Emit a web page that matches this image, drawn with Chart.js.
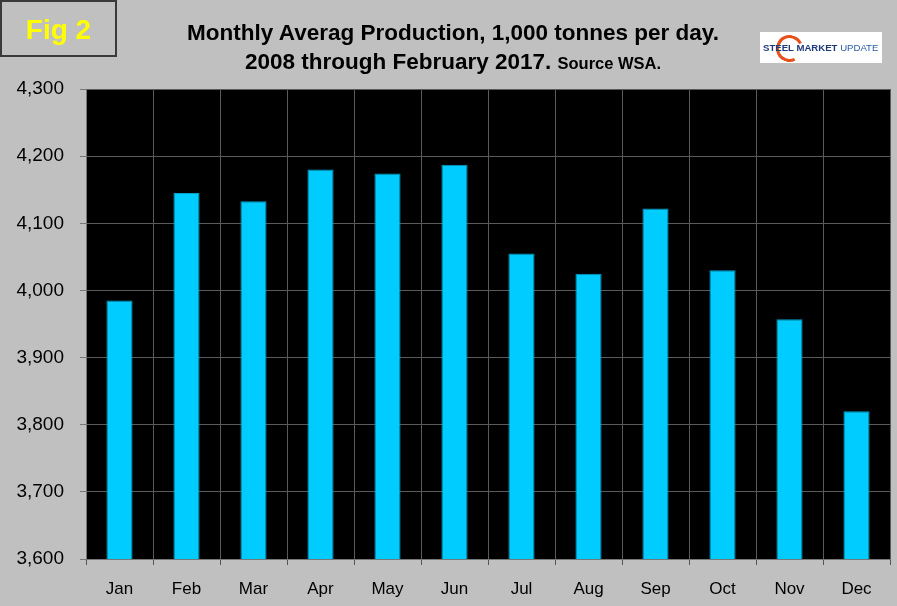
<!DOCTYPE html>
<html>
<head>
<meta charset="utf-8">
<script src="https://cdn.jsdelivr.net/npm/chart.js@4.4.0/dist/chart.umd.min.js"></script>
<style>
  html, body { margin: 0; padding: 0; background: #c0c0c0; }
  #wrap { position: relative; width: 897px; height: 606px; background: #c0c0c0; overflow: hidden; font-family: Arial, "Liberation Sans", sans-serif; }
  #chart { position: absolute; left: 0; top: 0; }
  #fig { position: absolute; left: 0; top: 0; width: 113px; height: 53px; border: 2px solid #3a3a3a;
         color: #ffff00; font-weight: bold; font-size: 28px; line-height: 56px; text-align: center; }
  #title { position: absolute; left: 0; width: 906px; top: 18px; text-align: center; font-weight: bold; color: #000; font-size: 22.5px; line-height: 29px; }
  #title small { font-size: 16.5px; }
  #logo { position: absolute; left: 760px; top: 32px; width: 122px; height: 31px; background: #fff; overflow: hidden; }
  #logo .arc { position: absolute; left: 16px; top: 3px; width: 27px; height: 27px; border-radius: 50%; border: 3px solid #e8501a; border-right-color: transparent; box-sizing: border-box; transform: rotate(20deg); }
  #logo .txt { position: absolute; left: 3px; top: 10px; font-size: 9.6px; font-weight: bold; color: #1f3a7a; white-space: nowrap; }
  #logo .txt span { font-weight: normal; color: #2a5aa8; }
</style>
</head>
<body>
<div id="wrap">
  <canvas id="chart" width="897" height="606"></canvas>
  <div id="fig">Fig 2</div>
  <div id="title">Monthly Averag Production, 1,000 tonnes per day.<br>2008 through February 2017. <small>Source WSA.</small></div>
  <div id="logo"><div class="arc"></div><div class="txt">STEEL MARKET <span>UPDATE</span></div></div>
</div>
<script>
const months = ['Jan', 'Feb', 'Mar', 'Apr', 'May', 'Jun', 'Jul', 'Aug', 'Sep', 'Oct', 'Nov', 'Dec'];
const production = [3985, 4145, 4133, 4180, 4174, 4187, 4055, 4025, 4122, 4030, 3957, 3820];
const yMin = 3600;
const yMax = 4300;
const yStep = 100;

// fond noir de la zone du graphique
const plotBg = {
    id: 'plotBg',
    beforeDraw(chart) {
        const a = chart.chartArea;
        const ctx = chart.ctx;
        ctx.save();
        ctx.fillStyle = '#000000';
        ctx.fillRect(a.left, a.top, a.right - a.left, a.bottom - a.top);
        ctx.restore();
    }
};

new Chart(document.getElementById('chart').getContext('2d'), {
    type: 'bar',
    data: {
        labels: months,
        datasets: [{
            data: production,
            backgroundColor: '#00ccff',
            borderColor: '#009ec8',
            borderWidth: 1,
            categoryPercentage: 1,
            barPercentage: 0.39
        }]
    },
    options: {
        responsive: false,
        animation: false,
        layout: { padding: { left: 0, top: 89, right: 7, bottom: 0 } },
        plugins: {
            legend: { display: false },
            tooltip: { enabled: false }
        },
        scales: {
            y: {
                min: yMin,
                max: yMax,
                afterFit(scale) { scale.width = 86; },
                grid: { color: '#5a5a5a', lineWidth: 1, tickLength: 6, tickColor: '#777777' },
                border: { color: '#777777' },
                ticks: {
                    stepSize: yStep,
                    padding: 16,
                    color: '#000000',
                    font: { family: 'Arial, "Liberation Sans", sans-serif', size: 19 },
                    callback: function(value) {
                        return value.toLocaleString('en-US');
                    }
                }
            },
            x: {
                afterFit(scale) { scale.height = 47; },
                grid: { color: '#5a5a5a', lineWidth: 1, tickLength: 6, tickColor: '#555555', offset: true },
                border: { color: '#777777' },
                ticks: {
                    padding: 14,
                    color: '#000000',
                    font: { family: 'Arial, "Liberation Sans", sans-serif', size: 17 }
                }
            }
        }
    },
    plugins: [plotBg]
});
</script>
</body>
</html>
